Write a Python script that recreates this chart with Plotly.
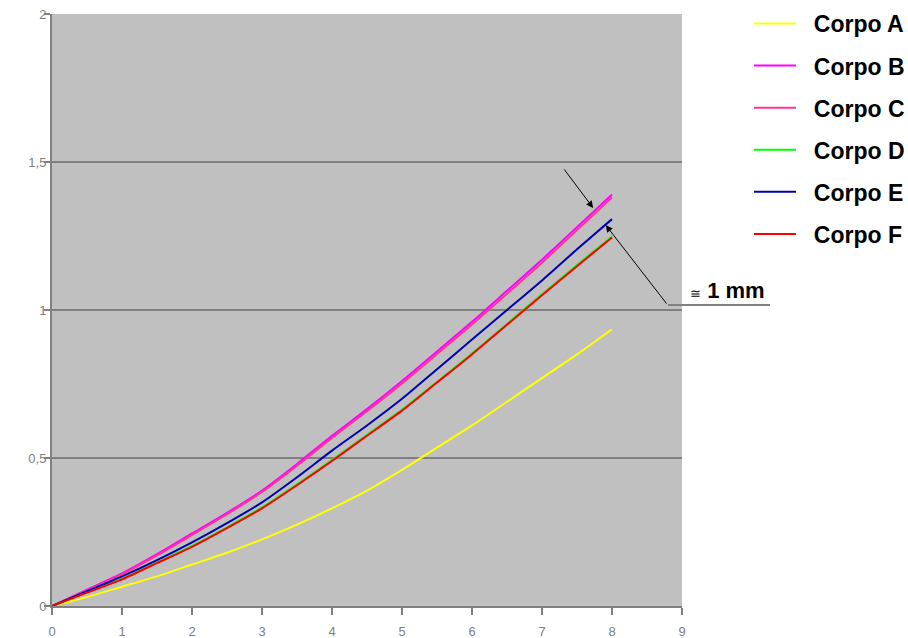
import plotly.graph_objects as go

x_vals = [0, 0.5, 1, 1.5, 2, 2.5, 3, 3.5, 4, 4.5, 5, 5.5, 6, 6.5, 7, 7.5, 8]
corpo_a = [0, 0.03, 0.065, 0.10, 0.14, 0.18, 0.225, 0.275, 0.33, 0.39, 0.46, 0.535, 0.61, 0.69, 0.77, 0.85, 0.935]
corpo_b = [0, 0.055, 0.11, 0.175, 0.245, 0.315, 0.39, 0.48, 0.575, 0.665, 0.76, 0.86, 0.96, 1.065, 1.17, 1.28, 1.39]
corpo_c = [0, 0.052, 0.107, 0.171, 0.240, 0.310, 0.385, 0.474, 0.568, 0.658, 0.752, 0.851, 0.951, 1.055, 1.16, 1.27, 1.38]
corpo_d = [0, 0.046, 0.092, 0.147, 0.203, 0.266, 0.333, 0.411, 0.493, 0.578, 0.663, 0.757, 0.853, 0.953, 1.053, 1.152, 1.248]
corpo_e = [0, 0.05, 0.10, 0.155, 0.215, 0.28, 0.35, 0.435, 0.525, 0.61, 0.70, 0.80, 0.90, 1.0, 1.10, 1.205, 1.307]
corpo_f = [0, 0.045, 0.09, 0.145, 0.20, 0.263, 0.33, 0.408, 0.49, 0.575, 0.66, 0.755, 0.85, 0.95, 1.05, 1.148, 1.245]

names = ["Corpo A", "Corpo B", "Corpo C", "Corpo D", "Corpo E", "Corpo F"]
series = [corpo_a, corpo_b, corpo_c, corpo_d, corpo_e, corpo_f]
colors = ["#ffff00", "#ff00ff", "#ff3399", "#00ff00", "#0000b4", "#ff0000"]

fig = go.Figure()
for i, (n, s, c) in enumerate(zip(names, series, colors)):
    fig.add_trace(go.Scatter(
        x=x_vals, y=s, mode="lines", name="\u00a0\u00a0" + n,
        legendgroup=n, line=dict(color=c, width=2, shape="spline", smoothing=0.6),
    ))

fig.update_layout(
    width=908, height=638,
    margin=dict(l=52, r=226, t=14, b=32, autoexpand=False),
    paper_bgcolor="white", plot_bgcolor="#c0c0c0",
    font=dict(family="Liberation Sans, Arial, sans-serif", size=13, color="#808080"),
    separators=",.",
    showlegend=True,
    legend=dict(
        x=(749 - 52) / 630, y=(606 - 2) / 592, xanchor="left", yanchor="top",
        font=dict(size=23, color="black", family="Liberation Sans, Arial, sans-serif", weight="bold"),
        bgcolor="rgba(0,0,0,0)", tracegroupgap=9.2, traceorder="grouped",
        itemwidth=42,
    ),
    xaxis=dict(
        range=[0, 9], dtick=1, tick0=0, showgrid=False, zeroline=False,
        showline=True, linecolor="#808080", linewidth=2,
        ticks="outside", ticklen=7, tickcolor="#808080", tickwidth=2,
        ticklabelstandoff=5,
    ),
    yaxis=dict(
        range=[0, 2], dtick=0.5, tick0=0, showgrid=True, gridcolor="#808080", gridwidth=2,
        zeroline=False, showline=True, linecolor="#808080", linewidth=2,
        ticks="outside", ticklen=6, tickcolor="#808080", tickwidth=2,
        tickformat=",.1~f", ticklabelstandoff=-5,
    ),
)

fig.add_annotation(
    x=7.73, y=1.345, xref="x", yref="y", ax=-30, ay=-40, axref="pixel", ayref="pixel",
    showarrow=True, arrowhead=2, arrowsize=1.4, arrowwidth=1, arrowcolor="black", text="",
)
fig.add_annotation(
    x=7.91, y=1.287, xref="x", yref="y", ax=62, ay=80, axref="pixel", ayref="pixel",
    showarrow=True, arrowhead=2, arrowsize=1.4, arrowwidth=1, arrowcolor="black", text="",
)
fig.add_shape(
    type="line", xref="paper", yref="paper",
    x0=(668 - 52) / 630, x1=(770 - 52) / 630, y0=(606 - 305) / 592, y1=(606 - 305) / 592,
    line=dict(color="#808080", width=2),
)
fig.add_annotation(
    x=(688 - 52) / 630, y=(606 - 290) / 592, xref="paper", yref="paper",
    xanchor="left", yanchor="middle", showarrow=False,
    text="<span style='font-size:13px'>≅</span> <b>1 mm</b>",
    font=dict(size=22, color="black", family="Liberation Sans, Arial, sans-serif"),
)

fig.write_html(
    "out.html",
    config={"displayModeBar": False},
    post_script="document.body.style.margin='0';document.body.style.overflow='hidden';",
)
